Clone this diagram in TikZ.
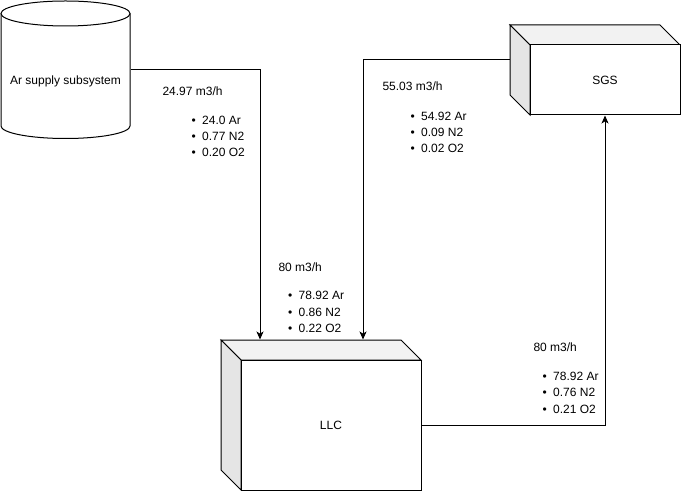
\documentclass[tikz,border=0pt]{standalone}
\usepackage{fontspec}
\setmainfont{Liberation Sans}
\usetikzlibrary{arrows.meta}
\newcommand{\bul}[1]{\makebox[8pt][l]{•}#1}
\begin{document}
\begin{tikzpicture}[x=0.75pt,y=0.75pt,
  line width=0.75pt,
  txt/.style={font=\fontsize{9pt}{11pt}\selectfont, inner sep=0pt, anchor=west},
  lbl/.style={font=\fontsize{9pt}{11pt}\selectfont, inner sep=0pt},
  arr/.style={draw=black, -{Stealth[length=6pt,width=5.25pt,inset=1.6pt]}},
  frontface/.style={draw, fill=white, inner sep=0pt, font=\fontsize{9pt}{11pt}\selectfont},
  topface/.style={draw, fill=black!5, line join=miter},
  sideface/.style={draw, fill=black!10, line join=miter},
  area/.style={inner sep=0pt, draw=none}]
\useasboundingbox (0,0) rectangle (681,-491);

% cylinder
\draw[fill=white] (1,-13.5) -- (1,-126) arc[start angle=180,end angle=360,x radius=48.375pt,y radius=9.375pt] -- (130,-13.5);
\draw[fill=white] (65.5,-13.5) ellipse[x radius=48.375pt,y radius=9.375pt];
\node[area, minimum width=96.75pt, minimum height=102.75pt] (cyl) at (65.5,-70) {};
\node[lbl] (cyltxt) at (65.5,-81) {Ar supply subsystem};

% LLC cube
\draw[topface] (221,-340) -- (401,-340) -- (421,-360) -- (241,-360) -- cycle;
\draw[sideface] (221,-340) -- (241,-360) -- (241,-490) -- (221,-470) -- cycle;
\node[frontface, minimum width=135pt, minimum height=97.5pt] (llc) at (331,-425) {LLC};
\node[area, minimum width=150pt, minimum height=112.5pt] (llcbox) at (321,-415) {};

% SGS cube
\draw[topface] (510,-25) -- (660,-25) -- (680,-45) -- (530,-45) -- cycle;
\draw[sideface] (510,-25) -- (530,-45) -- (530,-115) -- (510,-95) -- cycle;
\node[frontface, minimum width=112.5pt, minimum height=52.5pt] (sgs) at (605,-80) {SGS};
\node[area, minimum width=127.5pt, minimum height=67.5pt] (sgsbox) at (595,-70) {};

% connectors
\coordinate (j1) at (260,-70);
\coordinate (j2) at (363,-60);
\draw[arr] (cyl.east) -| (j1 |- llcbox.north);
\draw[arr] (sgsbox.west |- j2) -| (j2 |- llcbox.north);
\draw[arr] (llc.east) -| (sgs.south);

% labels
\node[txt] (t1) at (162,-91) {24.97 m3/h};
\node[txt] (t1a) at (191,-120.5) {\bul{24.0 Ar}};
\node[txt] (t1b) at (191,-136) {\bul{0.77 N2}};
\node[txt] (t1c) at (191,-152) {\bul{0.20 O2}};

\node[txt] (t2) at (382,-86) {55.03 m3/h};
\node[txt] (t2a) at (410,-116) {\bul{54.92 Ar}};
\node[txt] (t2b) at (410,-132) {\bul{0.09 N2}};
\node[txt] (t2c) at (410,-148) {\bul{0.02 O2}};

\node[txt] (t3) at (278,-267) {80 m3/h};
\node[txt] (t3a) at (287.5,-295) {\bul{78.92 Ar}};
\node[txt] (t3b) at (287.5,-312) {\bul{0.86 N2}};
\node[txt] (t3c) at (287.5,-328) {\bul{0.22 O2}};

\node[txt] (t4) at (533,-347) {80 m3/h};
\node[txt] (t4a) at (542,-376) {\bul{78.92 Ar}};
\node[txt] (t4b) at (542,-392) {\bul{0.76 N2}};
\node[txt] (t4c) at (542,-409) {\bul{0.21 O2}};
\end{tikzpicture}
\end{document}
